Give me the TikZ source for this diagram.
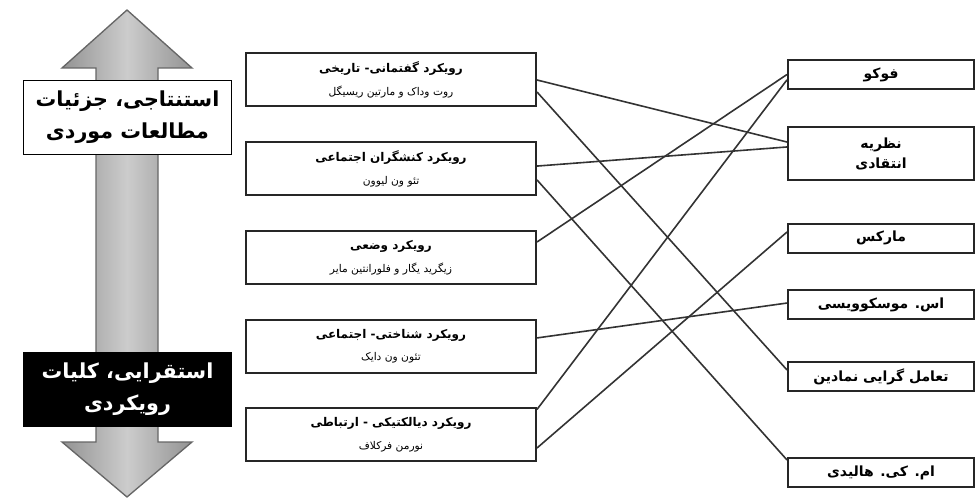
\documentclass[tikz,border=0pt]{standalone}
\usepackage{fontspec}
\usepackage{tikz}
\usetikzlibrary{positioning}
\newfontfamily\persian[Script=Arabic]{DejaVu Sans}
\TeXXeTstate=1
\newcommand{\fatxt}[1]{\beginR{#1}\endR}
\tikzset{
  approach/.style={rectangle,draw=black!85,line width=1.5pt,fill=white,minimum width=217.5pt,minimum height=39.75pt,align=center,font=\persian\fontsize{10}{17}\selectfont},
  theory/.style={rectangle,draw=black!85,line width=1.5pt,fill=white,minimum width=139.5pt,minimum height=21.75pt,align=center,font=\persian\bfseries\fontsize{10.5}{15}\selectfont},
  theory_t/.style={theory,minimum height=39.75pt},
  pole/.style={rectangle,draw=black,line width=1pt,minimum width=156pt,minimum height=55pt,align=center,font=\persian\bfseries\fontsize{15.5}{24}\selectfont},
  pole_up/.style={pole,fill=white,text=black},
  pole_down/.style={pole,fill=black,text=white},
  link/.style={line width=1.2pt,black!80},
}

\begin{document}
\begin{tikzpicture}[x=0.75pt,y=-0.75pt]
	    \useasboundingbox (0,0) rectangle (980,499);
	    \draw[draw=black!60,line width=1pt,left color=gray!85,right color=gray!85,middle color=gray!40]
	      (127,10) -- (192,68) -- (158,68) -- (158,442) -- (192,442) -- (127,497) -- (62,442)
	      -- (96,442) -- (96,68) -- (62,68) -- cycle;
	    \node[pole_up] (P) at (127.5,117.5) {\fatxt{استنتاجی، جزئیات}\\\fatxt{مطالعات موردی}};
	    \node[pole_down] (Q) at (127.5,389.5) {\fatxt{استقرایی، کلیات}\\\fatxt{رویکردی}};
	    \node[approach] (A) at (391,80) {\fatxt{\bfseries\small رویکرد گفتمانی- تاریخی}\\
	      \fatxt{\footnotesize روت وداک و مارتین ریسیگل}};
	    \node[approach,below=25.3pt of A] (B) {\fatxt{\bfseries\small رویکرد کنشگران اجتماعی}\\
	      \fatxt{\footnotesize تئو ون لیوون}};
	    \node[approach,below=25.3pt of B] (C) {\fatxt{\bfseries\small رویکرد وضعی}\\
	      \fatxt{\footnotesize زیگرید یگار و فلورانتین مایر}};
	    \node[approach,below=25.3pt of C] (D) {\fatxt{\bfseries\small رویکرد شناختی- اجتماعی}\\
	      \fatxt{\footnotesize تئون ون دایک}};
	    \node[approach,below=25.3pt of D] (E) {\fatxt{\bfseries\small رویکرد دیالکتیکی - ارتباطی}\\
	      \fatxt{\footnotesize نورمن فرکلاف}};
	    \node[theory] (F) at (881,74.5) {\fatxt{فوکو}};
	    \node[theory_t] (G) at (881,153.5) {\fatxt{نظریه}\\\fatxt{انتقادی}};
	    \node[theory] (H) at (881,238) {\fatxt{مارکس}};
	    \node[theory] (I) at (881,304.5) {\fatxt{اس. موسکوویسی}};
	    \node[theory] (J) at (881,376.5) {\fatxt{تعامل گرایی نمادین}};
	    \node[theory] (K) at (881,472.5) {\fatxt{ام. کی. هالیدی}};
	    \draw (A.east) edge[link] ([yshift=8.6pt]G.west);
	    \draw ([yshift=-9pt]A.east) edge[link] ([yshift=4.9pt]J.west);
	    \draw ([yshift=2pt]B.east) edge[link] ([yshift=4.9pt]G.west);
	    \draw ([yshift=-8.4pt]B.east) edge[link] ([yshift=9.4pt]K.west);
	    \draw ([yshift=11.6pt]C.east) edge[link] (F.west);
	    \draw ([yshift=6.2pt]D.east) edge[link] ([yshift=1.1pt]I.west);
	    \draw ([yshift=-1.5pt]E.north east) edge[link] ([yshift=-4pt]F.west);
	    \draw ([yshift=-9.8pt]E.east) edge[link] ([yshift=4.5pt]H.west);
	\end{tikzpicture}
\end{document}
